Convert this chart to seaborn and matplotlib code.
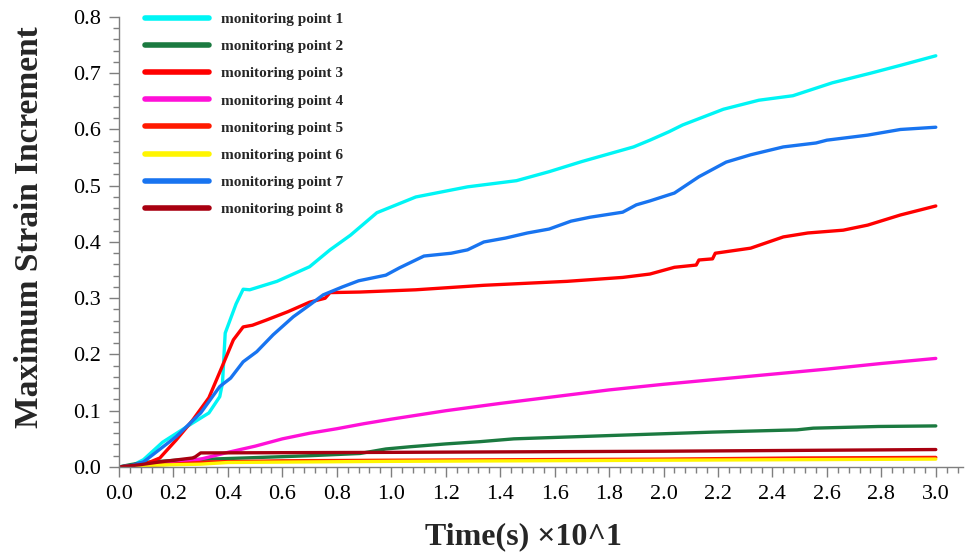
import numpy as np
import pandas as pd
import matplotlib
matplotlib.use("Agg")
import matplotlib.pyplot as plt
from matplotlib.ticker import MultipleLocator
import seaborn as sns

# Time axis in units of 10 s, strain increment per monitoring point
t1 = [0, 0.05, 0.09, 0.16, 0.27, 0.33, 0.37, 0.38, 0.39, 0.43, 0.456, 0.48, 0.58, 0.70,
      0.775, 0.85, 0.947, 1.09, 1.28, 1.46, 1.58, 1.70, 1.89, 1.95, 2.02, 2.07, 2.22,
      2.35, 2.475, 2.62, 2.76, 2.87, 3.0]
v1 = [0, 0.003, 0.013, 0.044, 0.078, 0.096, 0.125, 0.149, 0.238, 0.29, 0.316, 0.315,
      0.33, 0.356, 0.386, 0.412, 0.452, 0.48, 0.498, 0.509, 0.525, 0.543, 0.569, 0.581,
      0.596, 0.608, 0.636, 0.652, 0.66, 0.683, 0.70, 0.714, 0.731]

t2 = [0, 0.04, 0.09, 0.21, 0.46, 0.70, 0.885, 0.98, 1.07, 1.20, 1.326, 1.45, 1.81,
      2.18, 2.49, 2.55, 2.79, 3.0]
v2 = [0, 0.004, 0.008, 0.012, 0.016, 0.02, 0.024, 0.032, 0.036, 0.041, 0.045, 0.05,
      0.056, 0.062, 0.066, 0.069, 0.072, 0.073]

t3 = [0, 0.09, 0.15, 0.21, 0.27, 0.33, 0.38, 0.42, 0.456, 0.49, 0.54, 0.62, 0.70,
      0.757, 0.775, 0.885, 1.09, 1.34, 1.645, 1.85, 1.95, 2.04, 2.12, 2.13, 2.18, 2.19,
      2.32, 2.44, 2.53, 2.66, 2.75, 2.87, 3.0]
v3 = [0, 0.004, 0.016, 0.048, 0.083, 0.123, 0.18, 0.226, 0.249, 0.252, 0.261, 0.276,
      0.293, 0.30, 0.31, 0.311, 0.315, 0.323, 0.33, 0.337, 0.343, 0.355, 0.359, 0.368,
      0.370, 0.38, 0.389, 0.409, 0.416, 0.421, 0.43, 0.448, 0.464]

t4 = [0, 0.1, 0.2, 0.3, 0.4, 0.5, 0.6, 0.7, 0.8, 0.9, 1.0, 1.2, 1.4, 1.6, 1.8, 2.0,
      2.2, 2.4, 2.6, 2.8, 3.0]
v4 = [0, 0.003, 0.006, 0.014, 0.026, 0.037, 0.05, 0.06, 0.068, 0.077, 0.085, 0.1,
      0.113, 0.125, 0.137, 0.147, 0.156, 0.165, 0.174, 0.184, 0.193]

t5 = [0, 0.05, 0.2, 0.33, 0.6, 1.0, 1.5, 2.0, 2.5, 3.0]
v5 = [0, 0.002, 0.005, 0.009, 0.011, 0.012, 0.013, 0.014, 0.016, 0.017]

t6 = [0, 0.1, 0.3, 0.4, 1.0, 2.0, 3.0]
v6 = [0, 0.003, 0.005, 0.008, 0.01, 0.012, 0.014]

t7 = [0, 0.05, 0.09, 0.21, 0.30, 0.37, 0.41, 0.456, 0.506, 0.566, 0.64, 0.70, 0.75,
      0.82, 0.88, 0.91, 0.98, 1.03, 1.12, 1.22, 1.28, 1.34, 1.42, 1.50, 1.58, 1.66,
      1.73, 1.85, 1.90, 1.95, 2.04, 2.13, 2.23, 2.32, 2.44, 2.56, 2.60, 2.75, 2.87, 3.0]
v7 = [0, 0.003, 0.009, 0.054, 0.096, 0.143, 0.158, 0.187, 0.205, 0.235, 0.267, 0.288,
      0.306, 0.32, 0.331, 0.334, 0.341, 0.354, 0.375, 0.38, 0.386, 0.40, 0.407, 0.416,
      0.423, 0.437, 0.444, 0.453, 0.466, 0.473, 0.487, 0.516, 0.542, 0.555, 0.569,
      0.576, 0.581, 0.59, 0.60, 0.604]

t8 = [0, 0.077, 0.15, 0.27, 0.28, 0.30, 1.0, 2.0, 3.0]
v8 = [0, 0.004, 0.009, 0.016, 0.018, 0.025, 0.026, 0.028, 0.031]

labels = [f"monitoring point {i}" for i in range(1, 9)]
colors = ["#00F5F5", "#1B7A40", "#FF0000", "#FF10D8",
          "#FF1A00", "#FFF500", "#1874F0", "#A80010"]
x_ticks = [round(0.2 * i, 1) for i in range(16)]
y_ticks = [round(0.1 * i, 1) for i in range(9)]

series_t = [t1, t2, t3, t4, t5, t6, t7, t8]
series_v = [v1, v2, v3, v4, v5, v6, v7, v8]
frames = [pd.DataFrame({"time": t, "strain": v, "point": lab})
          for t, v, lab in zip(series_t, series_v, labels)]
df = pd.concat(frames, ignore_index=True)

sns.set_theme(style="white")
plt.rcParams["font.family"] = ["Liberation Serif", "DejaVu Serif"]

fig = plt.figure(figsize=(9.7, 5.55), dpi=100)
ax = fig.add_axes([0.1227, 0.1586, 0.8701, 0.8108])

sns.lineplot(data=df, x="time", y="strain", hue="point", hue_order=labels,
             palette=colors, estimator=None, sort=True, linewidth=2.4,
             legend=False, ax=ax)

ax.set_xlim(0, 3.1)
ax.set_ylim(0, 0.8)
ax.set_xticks(x_ticks)
ax.set_xticklabels([f"{x:.1f}" for x in x_ticks])
ax.set_yticks(y_ticks)
ax.set_yticklabels([f"{y:.1f}" for y in y_ticks])
ax.xaxis.set_minor_locator(MultipleLocator(0.04))
ax.yaxis.set_minor_locator(MultipleLocator(0.02))

grey = "#7F7F7F"
for side in ("top", "right"):
    ax.spines[side].set_visible(False)
for side in ("left", "bottom"):
    ax.spines[side].set_color(grey)
    ax.spines[side].set_linewidth(1.0)
ax.tick_params(axis="both", which="major", direction="out", length=7, width=1,
               color=grey, labelsize=16, labelcolor="black", pad=6,
               left=True, bottom=True)
ax.tick_params(axis="both", which="minor", direction="out", length=4, width=1,
               color=grey, left=True, bottom=True)

ax.set_xlabel("Time(s) ×10^1", fontsize=23, fontweight="bold")
ax.set_ylabel("Maximum Strain Increment", fontsize=24, fontweight="bold")
ax.xaxis.set_label_coords(0.479, -0.122)
ax.yaxis.set_label_coords(-0.088, 0.532)

leg = ax.legend(ax.lines, labels, loc="upper left", bbox_to_anchor=(0.031, 1.01),
                frameon=False, borderpad=0, borderaxespad=0,
                prop={"family": "Liberation Serif", "weight": "bold", "size": 11},
                handlelength=4.2, handletextpad=0.75, labelspacing=0.88)
for ln in leg.get_lines():
    ln.set_linewidth(4.0)

fig.savefig("out.png", dpi=100, facecolor="white")
